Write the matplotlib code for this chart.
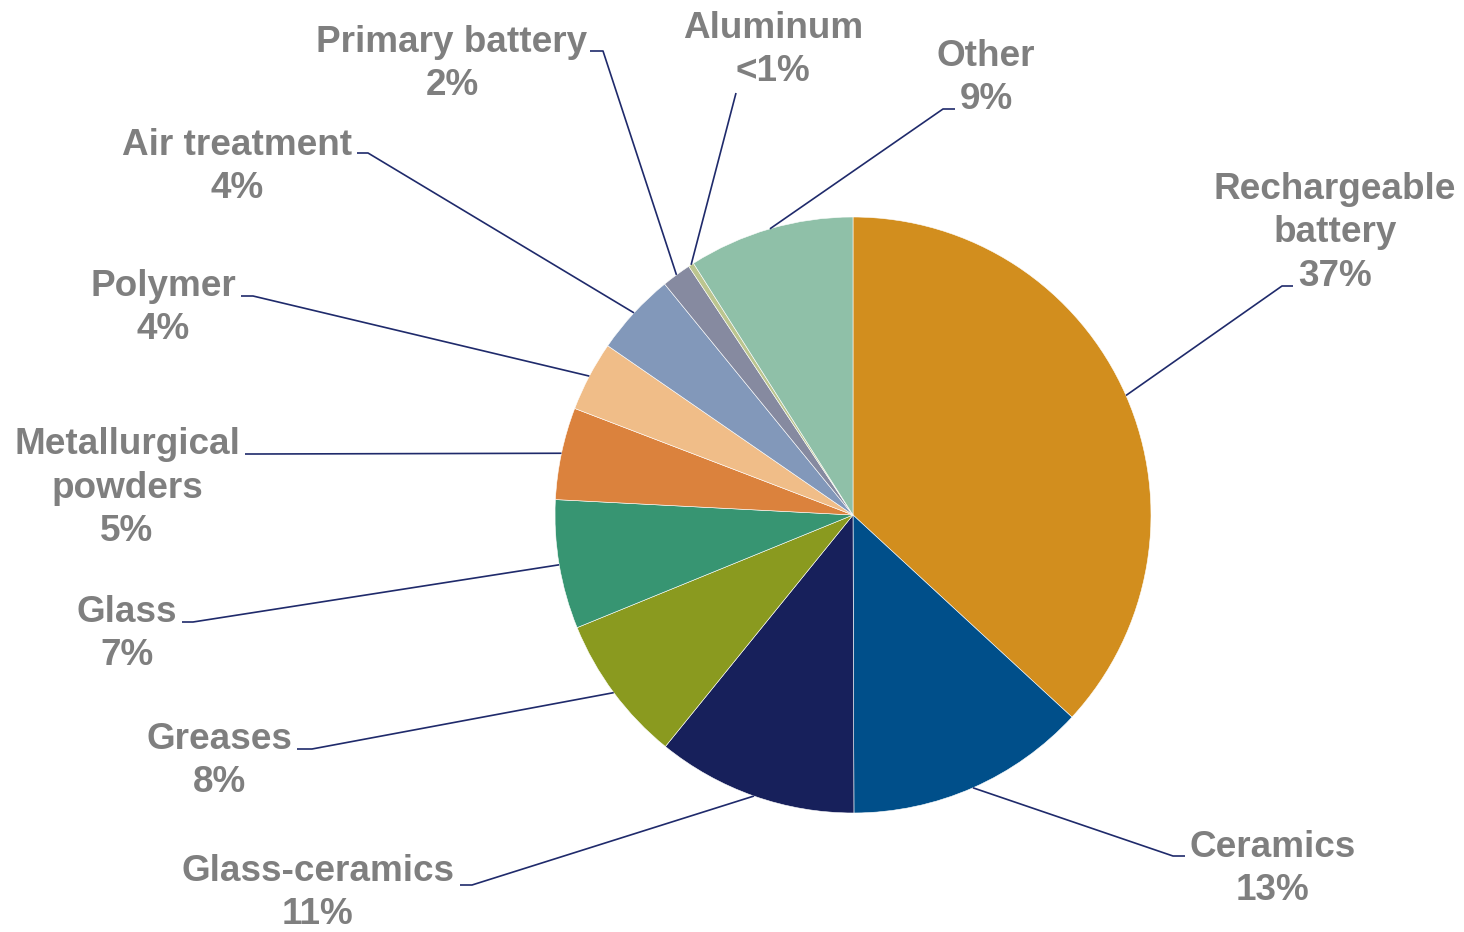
import numpy as np
import matplotlib.pyplot as plt

# slice data, clockwise from 12 o'clock
categories = ["Rechargeable\nbattery", "Ceramics", "Glass-ceramics", "Greases", "Glass",
              "Metallurgical\npowders", "Polymer", "Air treatment", "Primary battery",
              "Aluminum", "Other"]
shares = [36.9, 13.1, 10.9, 8.0, 7.0, 5.0, 3.8, 4.5, 1.6, 0.3, 9.0]
pct_labels = ["37%", "13%", "11%", "8%", "7%", "5%", "4%", "4%", "2%", "<1%", "9%"]
colors = ["#D28E1E", "#004F8A", "#17205B", "#8A9A1F", "#379572", "#DB823D",
          "#F0BD88", "#8298BA", "#868AA0", "#BCC58F", "#8FC0A8"]

# layout in pixels, y measured from the top of the image
W, H = 1464, 932
CX, CY, R = 853, 515, 298
label_xy = [(1335, 233), (1273, 869), (318, 893), (219, 761), (127, 634),
            (127, 488), (163, 308), (237, 167), (452, 64), (773, 50), (986, 78)]
# leader: (end next to the text, elbow)
leader_pts = [((1293, 286), (1282, 286)), ((1185, 856), (1173, 856)),
              ((460, 885), (472, 885)), ((297, 749), (312, 749)),
              ((182, 622), (193, 622)), ((245, 454), (257, 454)),
              ((241, 296), (253, 296)), ((357, 153), (368, 153)),
              ((590, 51), (603, 51)), ((736, 93), (736, 93)),
              ((955, 109), (943, 109))]


def fy(y):
    return H - y


fig = plt.figure(figsize=(W / 100, H / 100), dpi=100)
ax = fig.add_axes([0, 0, 1, 1])

wedges, _ = ax.pie(shares, colors=colors, startangle=90, counterclock=False,
                   center=(CX, fy(CY)), radius=R,
                   wedgeprops=dict(edgecolor="white", linewidth=0.4))
ax.set_xlim(0, W)
ax.set_ylim(0, H)
ax.set_aspect("equal")
ax.axis("off")

for w, cat, pct, (lx, ly), (end, elbow) in zip(wedges, categories, pct_labels,
                                               label_xy, leader_pts):
    mid = np.deg2rad((w.theta1 + w.theta2) / 2)
    ax_x = CX + R * np.cos(mid)
    ax_y = fy(CY) + R * np.sin(mid)
    ax.plot([ax_x, elbow[0], end[0]], [ax_y, fy(elbow[1]), fy(end[1])],
            color="#1F2A6B", lw=1.2, solid_capstyle="butt", zorder=3)
    ax.text(lx, fy(ly), f"{cat}\n{pct}", ha="center", va="center",
            multialignment="center", fontsize=26.6, fontweight="bold",
            color="#7F7F7F", family="Liberation Sans", linespacing=1.3)

fig.savefig("out.png", dpi=100)
